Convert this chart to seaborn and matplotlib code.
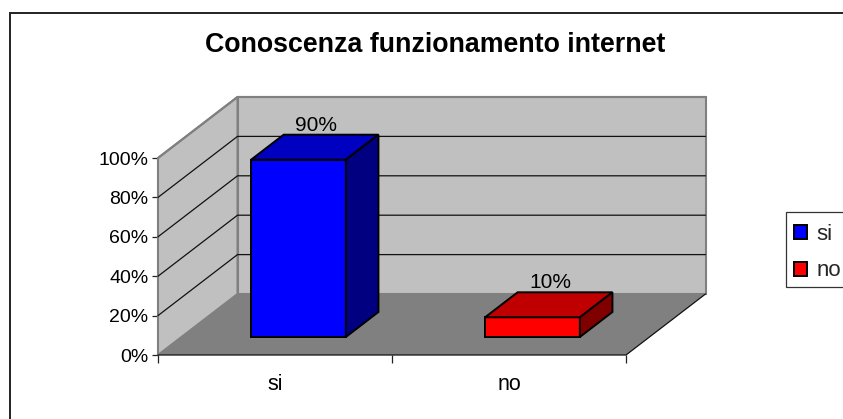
import matplotlib
matplotlib.use("Agg")
import matplotlib.pyplot as plt
import seaborn as sns
from matplotlib.patches import Polygon, Rectangle

categories = ["si", "no"]
values = [90, 10]
front_colors = ["#0000FF", "#FF0000"]
top_colors = ["#0000C0", "#C00000"]
side_colors = ["#000080", "#800000"]
y_ticks = [0, 20, 40, 60, 80, 100]
y_tick_labels = ["0%", "20%", "40%", "60%", "80%", "100%"]
title = "Conoscenza funzionamento internet"

W, H = 843, 419
sns.set_theme(style="white")
plt.rcParams["font.family"] = ["Liberation Sans", "DejaVu Sans"]
fig = plt.figure(figsize=(W / 100, H / 100), dpi=100, facecolor="white")
L, R, T, B = 158, 626, 158, 355
ax = fig.add_axes([L / W, 1 - B / H, (R - L) / W, (B - T) / H])
ax.patch.set_visible(False)

sns.barplot(x=categories, y=values, hue=categories, palette=front_colors, width=0.405,
            saturation=1, edgecolor="black", linewidth=1.4, legend=False, dodge=False, ax=ax, zorder=5)
ax.set_xlim(-0.5, 1.5)
ax.set_ylim(0, 100)
for s in ax.spines.values():
    s.set_visible(False)

px = 2 / (R - L)
py = 100 / (B - T)
DX, DY = 79.5 * px, 61 * py


def P(x, y, d=0.0):
    return (x + d * DX, y + d * DY)


x0, x1 = -0.5, 1.5
ax.add_patch(Polygon([P(x0, 0, 1), P(x1, 0, 1), P(x1, 100, 1), P(x0, 100, 1)], fc="#C0C0C0", ec="#808080", lw=1.5, zorder=1, clip_on=False))
ax.add_patch(Polygon([P(x0, 0), P(x0, 0, 1), P(x0, 100, 1), P(x0, 100)], fc="#C0C0C0", ec="#808080", lw=1.5, zorder=1, clip_on=False))
ax.add_patch(Polygon([P(x0, 0), P(x1, 0), P(x1, 0, 1), P(x0, 0, 1)], fc="#808080", ec="none", zorder=1.5, clip_on=False))
for v in y_ticks[1:]:
    if v < 100:
        ax.plot(*zip(P(x0, v), P(x0, v, 1), P(x1, v, 1)), color="#111111", lw=0.9, zorder=2, clip_on=False)
    else:
        ax.plot(*zip(P(x0, v), P(x0, v, 1), P(x1, v, 1)), color="#808080", lw=1.5, zorder=2, clip_on=False)
ax.plot(*zip(P(x0, 0), P(x1, 0), P(x1, 0, 1)), color="#111111", lw=0.9, zorder=2, clip_on=False)

d_front, d_back, d_label = 0.295, 0.705, 0.515
for i, bar in enumerate(ax.patches[:len(categories)]):
    bx, bw, bh = bar.get_x(), bar.get_width(), bar.get_height()
    bar.set_xy(P(bx, 0, d_front))
    bar.set_clip_on(False)
    a, b = bx, bx + bw
    ax.add_patch(Polygon([P(a, bh, d_front), P(b, bh, d_front), P(b, bh, d_back), P(a, bh, d_back)],
                         fc=top_colors[i], ec="black", lw=1.4, zorder=5, clip_on=False, joinstyle="miter"))
    ax.add_patch(Polygon([P(b, 0, d_front), P(b, 0, d_back), P(b, bh, d_back), P(b, bh, d_front)],
                         fc=side_colors[i], ec="black", lw=1.4, zorder=5, clip_on=False, joinstyle="miter"))
    lx, _ = P(i, bh, d_label)
    _, ly = P(i, bh, d_back)
    ax.annotate(f"{values[i]}%", (lx, ly), xytext=(0, 0), textcoords="offset points", ha="center", va="bottom",
                fontsize=15, color="black", annotation_clip=False, zorder=6)

ax.set_yticks(y_ticks, y_tick_labels)
ax.set_xticks(range(len(categories)), categories)
ax.set_xticks([-0.5, 0.5, 1.5], minor=True)
ax.tick_params(axis="y", length=4.5, width=0.9, color="#222222", labelsize=14, labelcolor="black", pad=2.5, left=True)
ax.tick_params(axis="x", which="major", length=0, labelsize=15.5, labelcolor="black", pad=14)
ax.tick_params(axis="x", which="minor", length=6, width=0.9, color="#222222", bottom=True)
ax.set_xlabel("")
ax.set_ylabel("")

# outer chart frame runs off the right and bottom of the image
fig.add_artist(Rectangle((10 / W, 1 - 440 / H), 860 / W, 427 / H, transform=fig.transFigure, fc="none", ec="#222222", lw=1.4))
fig.text(435 / W, 1 - 44.5 / H, title, ha="center", va="center", fontsize=19.3, fontweight="bold", color="black")

# legend box also runs off the right of the image
fig.add_artist(Rectangle((786 / W, 1 - 287 / H), 80 / W, 75 / H, transform=fig.transFigure, fc="white", ec="#333333", lw=0.9))
handles = [Rectangle((0, 0), 1, 1, fc=c, ec="black", lw=1.4) for c in front_colors]
leg = fig.legend(handles, categories, loc="upper left", bbox_to_anchor=(786 / W, 1 - 215.5 / H),
                 fontsize=16, frameon=False,
                 handlelength=0.6, handleheight=0.6, handletextpad=0.4, labelspacing=0.72,
                 borderpad=0.36, borderaxespad=0)

fig.savefig("out.png", dpi=100)
